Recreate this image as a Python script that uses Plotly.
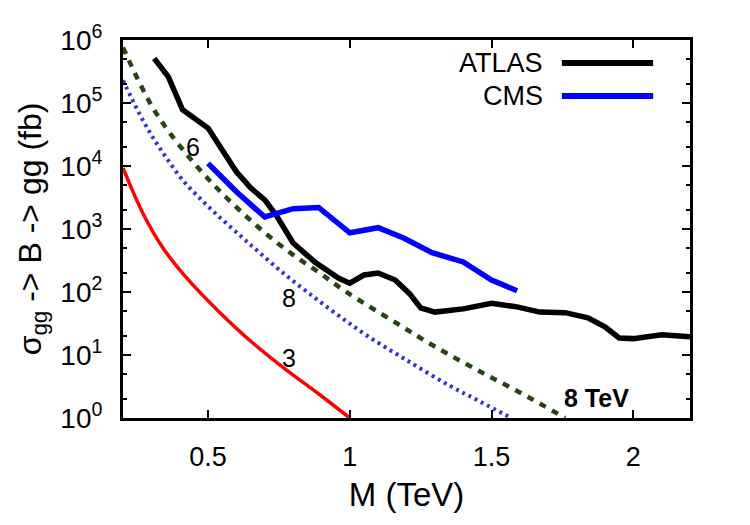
import plotly.graph_objects as go

# ---------------- data ----------------
atlas_m = [0.31, 0.36, 0.41, 0.50, 0.55, 0.60, 0.65, 0.70, 0.74, 0.80, 0.88, 0.96, 1.00,
           1.05, 1.10, 1.16, 1.21, 1.25, 1.30, 1.40, 1.50, 1.59, 1.67, 1.76, 1.84, 1.90,
           1.95, 2.00, 2.10, 2.20]
atlas_sigma = [5.1e5, 2.6e5, 7.8e4, 4.0e4, 1.8e4, 8.1e3, 4.5e3, 2.9e3, 1.66e3, 600, 290,
               166, 138, 186, 200, 155, 95, 56, 48, 54, 66, 58, 48, 47, 39, 28, 18.6, 18.2,
               21, 19.5]

cms_m = [0.50, 0.60, 0.70, 0.80, 0.89, 1.00, 1.10, 1.19, 1.29, 1.40, 1.50, 1.59]
cms_sigma = [1.1e4, 3.9e3, 1.55e3, 2.1e3, 2.2e3, 870, 1050, 720, 420, 300, 155, 105]

# theory curve "6" (dark green dashed)
th6_m = [0.20, 0.253, 0.306, 0.366, 0.471, 0.549, 0.63, 0.711, 0.80, 0.894, 0.985, 1.165,
         1.305, 1.446, 1.598, 1.76]
th6_sigma = [7.6e5, 2.34e5, 8.3e4, 3.3e4, 8.7e3, 3.7e3, 1.66e3, 794, 389, 200, 102, 32,
             13.2, 5.9, 2.57, 1.0]

# theory curve "8" (blue dotted)
th8_m = [0.20, 0.25, 0.30, 0.35, 0.41, 0.48, 0.55, 0.62, 0.68, 0.76, 0.85, 0.95, 1.06,
         1.20, 1.35, 1.46, 1.57]
th8_sigma = [2.29e5, 7.9e4, 3.1e4, 1.41e4, 6.0e3, 2.8e3, 1.41e3, 740, 427, 209, 100, 45.7,
             20.4, 8.3, 3.3, 1.82, 1.0]

# theory curve "3" (red)
th3_m = [0.20, 0.27, 0.341, 0.425, 0.542, 0.658, 0.777, 0.894, 1.00]
th3_sigma = [9.3e3, 1.78e3, 500, 166, 47, 15.5, 5.75, 2.34, 1.0]

legend_names = ["ATLAS", "CMS"]
legend_colors = ["#000000", "#0000ff"]

y_tickvals = [1, 10, 100, 1e3, 1e4, 1e5, 1e6]
y_ticktext = ["10<sup>0</sup>", "10<sup>1</sup>", "10<sup>2</sup>", "10<sup>3</sup>",
              "10<sup>4</sup>", "10<sup>5</sup>", "10<sup>6</sup>"]
x_tickvals = [0.5, 1, 1.5, 2]
x_ticktext = ["0.5", "1", "1.5", "2"]

FONT = "Liberation Sans, Arial, sans-serif"

fig = go.Figure()
fig.add_trace(go.Scatter(x=th3_m, y=th3_sigma, mode="lines", line_shape="spline",
                         line=dict(color="#ff0000", width=3.5), showlegend=False))
fig.add_trace(go.Scatter(x=th8_m, y=th8_sigma, mode="lines", line_shape="spline",
                         line=dict(color="#3434d8", width=4, dash="3px,4px"), showlegend=False))
fig.add_trace(go.Scatter(x=th6_m, y=th6_sigma, mode="lines", line_shape="spline",
                         line=dict(color="#264416", width=4.5, dash="7px,7px"), showlegend=False))
fig.add_trace(go.Scatter(x=atlas_m, y=atlas_sigma, mode="lines", name="ATLAS",
                         line=dict(color="#000000", width=5.5), showlegend=False))
fig.add_trace(go.Scatter(x=cms_m, y=cms_sigma, mode="lines", name="CMS",
                         line=dict(color="#0000ff", width=5.5), showlegend=False))

# manual gnuplot-style key (text left of sample line)
key_y = [0.939, 0.852]
for name, col, ky in zip(legend_names, legend_colors, key_y):
    fig.add_shape(type="line", xref="paper", yref="paper", x0=0.774, x1=0.935, y0=ky, y1=ky,
                  line=dict(color=col, width=6))
    fig.add_annotation(xref="paper", yref="paper", x=0.745, y=ky, text=name, showarrow=False,
                       xanchor="right", yanchor="middle", font=dict(size=27, color="black", family=FONT))

# curve labels
labels = [("6", 0.446, 4.30, False), ("8", 0.785, 1.90, False), ("3", 0.785, 0.95, False),
          ("8 TeV", 1.869, 0.32, True)]
for txt, lx, ly, bold in labels:
    fig.add_annotation(x=lx, y=ly, text=f"<b>{txt}</b>" if bold else txt, showarrow=False,
                       xanchor="center", yanchor="middle",
                       font=dict(size=25, color="black", family=FONT))

fig.update_xaxes(range=[0.2, 2.2], tickvals=x_tickvals, ticktext=x_ticktext,
                 ticks="inside", ticklen=8, tickwidth=1.5, tickcolor="black",
                 showline=True, linewidth=3, linecolor="black", mirror="ticks",
                 showgrid=False, zeroline=False, ticklabelstandoff=13,
                 tickfont=dict(size=27, family=FONT, color="black"),
                 title=dict(text="M (TeV)", font=dict(size=33, family=FONT, color="black"),
                            standoff=12))
fig.update_yaxes(type="log", range=[0, 6], tickvals=y_tickvals, ticktext=y_ticktext,
                 ticks="inside", ticklen=8, tickwidth=1.5, tickcolor="black",
                 minor=dict(dtick="D2", ticks="inside", ticklen=4, tickwidth=1.5, tickcolor="black",
                            showgrid=False),
                 showline=True, linewidth=3, linecolor="black", mirror="ticks",
                 showgrid=False, zeroline=False, ticklabelstandoff=12,
                 tickfont=dict(size=28, family=FONT, color="black"),
                 title=dict(text="σ<sub>gg</sub> -> B -> gg (fb)",
                            font=dict(size=32, family=FONT, color="black"), standoff=10))

fig.update_layout(width=750, height=525, plot_bgcolor="white", paper_bgcolor="white",
                  margin=dict(l=123, r=60, t=40, b=107), showlegend=False)

fig.write_html("out.html")
